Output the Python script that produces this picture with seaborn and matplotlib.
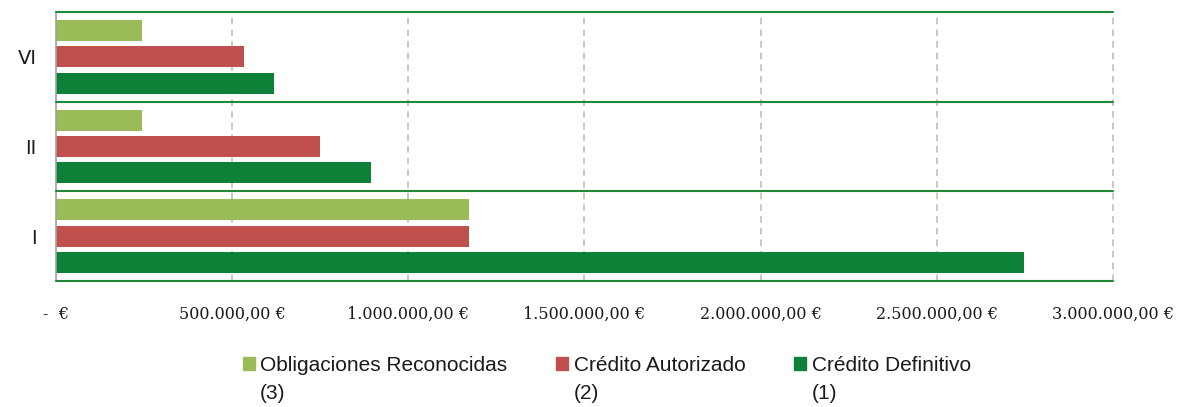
import matplotlib
matplotlib.use("Agg")
import matplotlib.pyplot as plt
import seaborn as sns
import pandas as pd
from matplotlib.ticker import FixedLocator, FuncFormatter

categories = ["VI", "II", "I"]
series = ["Obligaciones Reconocidas", "Crédito Autorizado", "Crédito Definitivo"]
series_notes = ["(3)", "(2)", "(1)"]
obligaciones = [244000, 244000, 1172000]
autorizado = [534000, 749000, 1172000]
definitivo = [619000, 894000, 2748000]
colors = ["#9BBB59", "#C0504D", "#0E8139"]
xticks = [0, 500000, 1000000, 1500000, 2000000, 2500000, 3000000]

rows = []
for s, vals in zip(series, [obligaciones, autorizado, definitivo]):
    for c, v in zip(categories, vals):
        rows.append({"cat": c, "serie": s, "valor": v})
df = pd.DataFrame(rows)

sns.set_style("white")
fig = plt.figure(figsize=(11.79, 4.07), dpi=100)
ax = fig.add_axes([0.0475, 0.3096, 0.8965, 0.6609])

sns.barplot(data=df, y="cat", x="valor", hue="serie", order=categories,
            hue_order=series, palette=colors, orient="h", width=0.877, gap=0.2,
            ax=ax, edgecolor="none", saturation=1)

ax.set_xlim(0, 3000000)
ax.set_ylim(2.5, -0.5)
ax.set_xlabel("")
ax.set_ylabel("")

for y in [-0.5, 0.5, 1.5, 2.5]:
    ax.axhline(y, color="#1E8A3A", lw=1.5, zorder=3, clip_on=False)
for x in xticks[1:]:
    ax.axvline(x, color="#C4C0AE", lw=1.2, ls=(0, (4, 3)), zorder=0.5, clip_on=False)

for sp in ["top", "right", "bottom"]:
    ax.spines[sp].set_visible(False)
ax.spines["left"].set_color("#A0A0A0")
ax.spines["left"].set_linewidth(1.2)

def fmt(v, pos):
    if v == 0:
        return "-  €"
    s = f"{v:,.2f}".replace(",", "X").replace(".", ",").replace("X", ".")
    return s + " €"

ax.xaxis.set_major_locator(FixedLocator(xticks))
ax.xaxis.set_major_formatter(FuncFormatter(fmt))
ax.tick_params(axis="x", length=0, pad=18, labelsize=11.5, labelfontfamily="DejaVu Serif",
               labelcolor="#1A1A1A")
ax.tick_params(axis="y", length=0, pad=14, labelsize=14, labelfontfamily="DejaVu Sans",
               labelcolor="#1A1A1A")

ax.get_legend().remove()
handles = [plt.Rectangle((0, 0), 1, 1, color=c) for c in colors]
leg_font = {"family": "Liberation Sans", "size": 15}
leg = fig.legend(handles, series, loc="center left", bbox_to_anchor=(0.206, 0.103),
                 ncol=3, frameon=False, handlelength=0.58, handleheight=0.58,
                 handletextpad=0.25, columnspacing=2.35, prop=leg_font,
                 borderpad=0, borderaxespad=0)
for t in leg.get_texts():
    t.set_color("#1A1A1A")

fig.canvas.draw()
inv = fig.transFigure.inverted()
for t, note in zip(leg.get_texts(), series_notes):
    bb = t.get_window_extent()
    x0, y0 = inv.transform((bb.x0, bb.y0))
    fig.text(x0, y0 - 0.022, note, ha="left", va="top", fontfamily="Liberation Sans",
             fontsize=15, color="#1A1A1A")

fig.savefig("out.png", dpi=100)
